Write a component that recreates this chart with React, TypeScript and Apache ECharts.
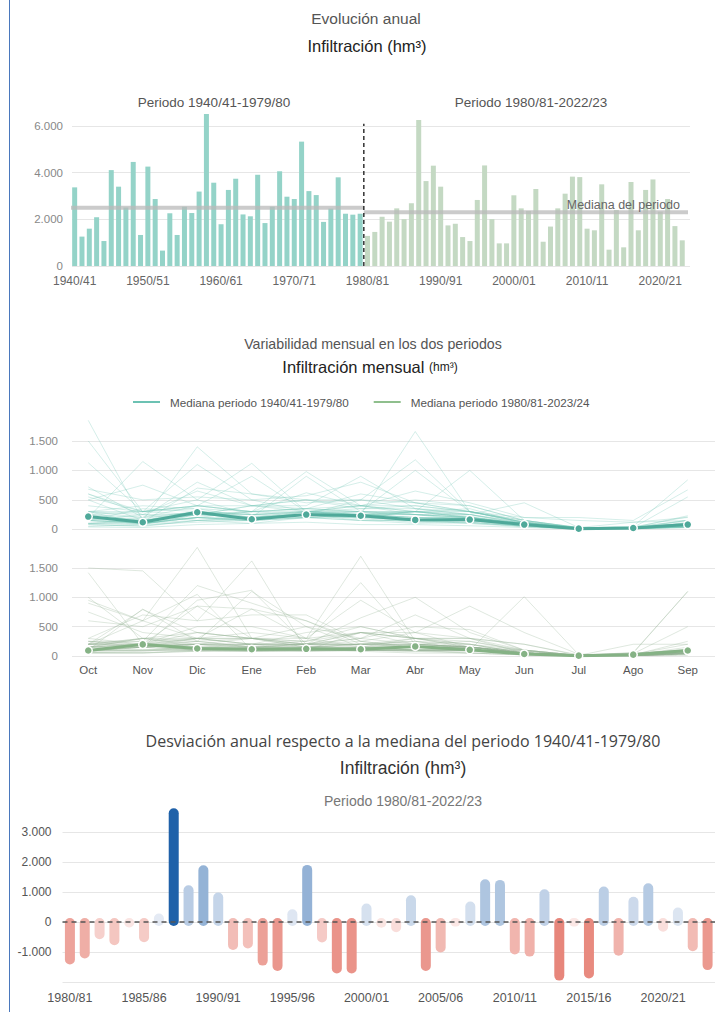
import React, { useEffect, useRef } from 'react';
import * as echarts from 'echarts';

const W = 715;
const H = 1012;

// ---------- Data ----------
const START_YEAR = 1940;
// Annual infiltration (hm³), period 1940/41-1979/80
const annualP1 = [3370, 1260, 1600, 2090, 1070, 4110, 3400, 2510, 4460, 1330, 4260, 2870, 660, 2260, 1330, 2540, 2270, 3190, 6510, 3570, 1790, 3260, 3740, 2210, 2130, 3910, 1840, 2540, 4060, 2970, 2870, 5330, 3210, 3040, 1890, 2460, 3800, 2240, 2200, 2240];
// Annual infiltration (hm³), period 1980/81-2023/24
const annualP2 = [1290, 1460, 2110, 1900, 2470, 2010, 2690, 6260, 3640, 4300, 3400, 1740, 1810, 1240, 1070, 2830, 4310, 2010, 970, 970, 3030, 2470, 2360, 3300, 1040, 1690, 2470, 3100, 3830, 3810, 1600, 1530, 3500, 700, 2400, 800, 3600, 1530, 3260, 3710, 2330, 2870, 1710, 1100];
const medianP1 = 2500;
const medianP2 = 2300;

const months = ['Oct', 'Nov', 'Dic', 'Ene', 'Feb', 'Mar', 'Abr', 'May', 'Jun', 'Jul', 'Ago', 'Sep'];
const medianMonthP1 = [216, 119, 290, 170, 250, 230, 159, 165, 80, 11, 23, 80];
const medianMonthP2 = [93, 198, 128, 116, 122, 116, 163, 105, 35, 6, 23, 93];

const monthlyP1 = [
  [150, 120, 700, 600, 450, 500, 350, 250, 120, 30, 20, 80],
  [80, 60, 150, 200, 250, 180, 120, 100, 60, 10, 10, 40],
  [300, 100, 200, 150, 300, 200, 150, 100, 40, 10, 10, 40],
  [600, 250, 150, 100, 200, 250, 200, 180, 80, 20, 20, 40],
  [50, 80, 120, 150, 200, 150, 100, 120, 50, 10, 10, 30],
  [1130, 300, 400, 300, 250, 500, 450, 400, 150, 30, 120, 150],
  [200, 1150, 500, 250, 300, 250, 300, 200, 100, 20, 30, 100],
  [250, 150, 300, 200, 900, 300, 150, 120, 60, 10, 20, 50],
  [1500, 300, 250, 400, 350, 600, 450, 300, 150, 20, 20, 120],
  [100, 100, 200, 150, 250, 150, 150, 120, 50, 10, 10, 40],
  [400, 300, 1100, 500, 300, 400, 500, 400, 150, 20, 40, 150],
  [720, 200, 300, 250, 250, 200, 300, 350, 100, 30, 20, 150],
  [40, 30, 80, 100, 120, 80, 80, 60, 30, 5, 5, 30],
  [200, 150, 250, 400, 300, 250, 300, 220, 80, 10, 20, 80],
  [80, 50, 150, 200, 200, 200, 150, 150, 80, 10, 10, 50],
  [300, 400, 350, 200, 250, 300, 300, 200, 100, 20, 20, 100],
  [500, 150, 300, 200, 250, 250, 250, 200, 80, 10, 10, 70],
  [150, 250, 650, 400, 500, 350, 350, 300, 120, 20, 20, 80],
  [1850, 150, 1400, 600, 500, 400, 650, 450, 200, 150, 120, 200],
  [500, 750, 400, 300, 300, 350, 400, 300, 120, 20, 30, 100],
  [200, 100, 200, 150, 300, 250, 200, 200, 80, 10, 20, 80],
  [300, 300, 500, 1120, 300, 250, 200, 150, 60, 10, 20, 50],
  [250, 200, 800, 400, 400, 900, 350, 250, 100, 20, 20, 50],
  [150, 350, 300, 250, 200, 250, 300, 250, 80, 10, 20, 50],
  [180, 100, 250, 300, 350, 300, 250, 200, 100, 20, 20, 60],
  [550, 300, 350, 300, 980, 400, 300, 300, 150, 30, 40, 210],
  [100, 80, 250, 200, 300, 300, 250, 200, 80, 10, 20, 50],
  [200, 180, 300, 250, 300, 400, 400, 300, 120, 10, 20, 60],
  [300, 200, 400, 400, 500, 500, 1180, 300, 120, 20, 20, 80],
  [250, 300, 400, 900, 300, 250, 200, 200, 80, 10, 20, 60],
  [200, 150, 250, 200, 250, 300, 1000, 300, 100, 20, 20, 80],
  [680, 500, 550, 500, 570, 800, 450, 300, 200, 200, 150, 670],
  [150, 100, 150, 150, 200, 250, 1660, 300, 120, 20, 20, 70],
  [200, 150, 250, 250, 300, 300, 300, 1000, 150, 30, 30, 80],
  [150, 100, 200, 200, 250, 200, 300, 250, 100, 20, 20, 100],
  [300, 250, 250, 200, 250, 250, 250, 250, 450, 30, 30, 100],
  [600, 300, 400, 300, 620, 400, 300, 200, 80, 20, 30, 550],
  [150, 100, 200, 300, 350, 300, 250, 200, 100, 30, 30, 230],
  [100, 150, 250, 300, 350, 400, 250, 150, 60, 10, 30, 150],
  [100, 150, 200, 150, 200, 150, 150, 150, 60, 20, 50, 840],
];

const monthlyP2 = [
  [60, 80, 150, 150, 150, 200, 200, 150, 80, 10, 10, 50],
  [100, 200, 100, 150, 150, 200, 250, 150, 80, 10, 20, 50],
  [100, 800, 250, 150, 150, 200, 200, 150, 50, 5, 5, 50],
  [80, 150, 200, 150, 200, 400, 300, 250, 100, 10, 10, 50],
  [150, 300, 250, 1100, 500, 150, 100, 100, 50, 5, 15, 50],
  [100, 150, 200, 300, 500, 300, 200, 150, 50, 5, 5, 50],
  [250, 200, 850, 300, 200, 200, 200, 150, 100, 10, 30, 200],
  [1500, 1450, 600, 700, 700, 250, 400, 300, 200, 20, 40, 500],
  [200, 790, 400, 300, 250, 1250, 200, 150, 50, 5, 5, 40],
  [1420, 200, 500, 500, 300, 400, 300, 300, 200, 10, 20, 150],
  [250, 150, 300, 300, 300, 1700, 250, 100, 30, 5, 5, 10],
  [100, 100, 150, 200, 200, 200, 300, 300, 100, 10, 20, 60],
  [150, 200, 250, 300, 150, 150, 200, 250, 80, 10, 20, 50],
  [200, 300, 150, 100, 100, 100, 100, 100, 50, 5, 5, 30],
  [100, 100, 100, 150, 150, 150, 150, 100, 30, 5, 5, 30],
  [100, 150, 950, 1120, 200, 100, 100, 50, 20, 5, 5, 30],
  [950, 600, 1850, 300, 150, 100, 100, 100, 50, 10, 20, 80],
  [200, 300, 400, 300, 200, 200, 150, 150, 50, 5, 5, 50],
  [100, 100, 100, 100, 100, 150, 100, 100, 50, 5, 15, 50],
  [150, 150, 100, 80, 80, 100, 120, 100, 30, 5, 5, 50],
  [900, 600, 1050, 100, 80, 100, 80, 50, 20, 5, 5, 40],
  [150, 200, 300, 200, 200, 300, 500, 450, 100, 10, 10, 50],
  [200, 600, 300, 400, 300, 150, 150, 150, 50, 5, 5, 50],
  [1000, 300, 300, 300, 250, 500, 300, 150, 50, 10, 40, 100],
  [150, 150, 100, 100, 100, 100, 100, 100, 50, 10, 30, 50],
  [200, 200, 200, 200, 200, 250, 150, 150, 50, 10, 30, 50],
  [100, 200, 300, 200, 200, 300, 700, 300, 50, 10, 10, 100],
  [200, 150, 200, 150, 200, 400, 400, 850, 400, 30, 20, 100],
  [600, 500, 850, 800, 600, 200, 150, 100, 50, 10, 20, 250],
  [250, 250, 1200, 900, 600, 250, 150, 100, 30, 5, 15, 60],
  [100, 200, 150, 150, 200, 200, 250, 200, 50, 10, 20, 70],
  [200, 200, 150, 100, 100, 150, 300, 200, 50, 10, 20, 50],
  [200, 250, 300, 800, 300, 950, 400, 150, 50, 10, 20, 70],
  [50, 50, 80, 80, 100, 100, 80, 80, 30, 5, 5, 40],
  [150, 300, 200, 200, 400, 500, 300, 150, 50, 10, 40, 100],
  [60, 60, 80, 100, 100, 100, 100, 100, 30, 5, 15, 50],
  [300, 700, 600, 1620, 100, 80, 50, 50, 20, 5, 5, 70],
  [50, 50, 100, 200, 250, 400, 200, 150, 50, 5, 15, 60],
  [750, 400, 300, 200, 100, 100, 100, 100, 50, 10, 50, 1100],
  [300, 200, 400, 300, 200, 650, 1000, 400, 100, 10, 30, 120],
  [100, 150, 200, 200, 150, 150, 100, 100, 1010, 20, 50, 100],
  [100, 150, 250, 150, 100, 400, 300, 200, 50, 10, 60, 1100],
  [150, 200, 200, 100, 100, 100, 150, 200, 100, 10, 200, 200],
  [80, 100, 100, 80, 100, 150, 150, 150, 50, 5, 35, 100],
];

// Annual deviation from the 1940/41-1979/80 median, 1980/81-2023/24
const deviations = [-1280, -1080, -440, -640, -50, -540, 150, 3660, 1090, 1760, 850, -800, -750, -1320, -1500, 290, 1770, -550, -1580, -1580, 480, -60, -210, 760, -1500, -880, -20, 550, 1290, 1270, -950, -1020, 960, -1820, -20, -1750, 1050, -990, 710, 1160, -190, 350, -840, -1470];

// ---------- Helpers ----------
const season = (y: number) => `${y}/${String((y + 1) % 100).padStart(2, '0')}`;
const seasonsAll = Array.from({ length: annualP1.length + annualP2.length }, (_, i) => season(START_YEAR + i));
const seasonsP2 = seasonsAll.slice(annualP1.length);

const fmt = (v: number) => {
  const s = Math.abs(Math.round(v)).toString().replace(/\B(?=(\d{3})+(?!\d))/g, '.');
  return (v < 0 ? '-' : '') + s;
};

const lerp = (a: number[], b: number[], t: number) =>
  `rgb(${a.map((x, i) => Math.round(x + (b[i] - x) * t)).join(',')})`;
const devColor = (v: number) => {
  if (v >= 0) {
    const t = Math.pow(Math.min(v / 3700, 1), 1.2);
    return lerp([232, 237, 246], [28, 95, 168], t);
  }
  const t = Math.min(-v / 1900, 1);
  return lerp([251, 232, 230], [230, 130, 118], t);
};

const TEAL = '#94d3c8';
const GREEN = '#c4d9c3';
const GRID = '#e6e6e6';
const NONE = 'rgba(0,0,0,0)';
const FONT = '"Liberation Sans", Arial, sans-serif';

function buildOption(): any {
  const n1 = annualP1.length;
  const n = n1 + annualP2.length;

  const gText = (x: number, y: number, text: string, size: number, fill: string, family = FONT, extra: any = {}) => ({
    type: 'text',
    x,
    y,
    z: 100,
    silent: true,
    style: {
      text,
      fill,
      fontSize: size,
      fontFamily: family,
      align: 'center',
      textAlign: 'center',
      verticalAlign: 'middle',
      textVerticalAlign: 'middle',
      ...extra,
    },
  });

  const valueLabelAxis = (gridIndex: number, min: number, max: number, interval: number, nLines: number, margin: number, color: string, extra: any = {}) => ({
    type: 'value',
    gridIndex,
    min,
    max,
    interval,
    axisLine: { show: false },
    axisTick: { show: false },
    axisLabel: { color, fontSize: 11.5, margin, formatter: fmt, showMaxLabel: false, ...extra },
    splitLine: { lineStyle: { color: [...Array(nLines).fill(GRID), NONE], width: 1 } },
  });
  const hiddenValue = (gridIndex: number, min: number, max: number) => ({ type: 'value', gridIndex, min, max, show: false });

  const spaghettiP1 = monthlyP1.map((row, i) => ({
    type: 'line',
    name: 'p1_' + i,
    xAxisIndex: 4,
    yAxisIndex: 3,
    data: row,
    symbol: 'none',
    silent: true,
    lineStyle: { width: 1, color: 'rgba(115,198,182,0.3)' },
    z: 2,
  }));
  const spaghettiP2 = monthlyP2.map((row, i) => ({
    type: 'line',
    name: 'p2_' + i,
    xAxisIndex: 6,
    yAxisIndex: 5,
    data: row,
    symbol: 'none',
    silent: true,
    lineStyle: { width: 1, color: 'rgba(150,178,150,0.3)' },
    z: 2,
  }));

  const nameMed1 = 'Mediana periodo 1940/41-1979/80';
  const nameMed2 = 'Mediana periodo 1980/81-2023/24';

  return {
    animation: false,
    backgroundColor: '#fff',
    textStyle: { fontFamily: FONT },
    grid: [
      { left: 72, right: 25, top: 112, height: 154 }, // 0 top gridlines/labels
      { left: 71, width: 614.9, top: 112, height: 154 }, // 1 top data
      { left: 72, right: 0, top: 417.4, height: 111.9 }, // 2 mid upper gridlines
      { left: 61, width: 667, top: 417.4, height: 111.9 }, // 3 mid upper data
      { left: 72, right: 0, top: 544.5, height: 111.5 }, // 4 mid lower gridlines
      { left: 61, width: 667, top: 544.5, height: 111.5 }, // 5 mid lower data
      { left: 62.5, width: 660, top: 808, height: 174 }, // 6 bottom
    ],
    legend: {
      left: 133,
      top: 396,
      padding: 0,
      icon: 'rect',
      itemWidth: 27,
      itemHeight: 2,
      itemGap: 25,
      textStyle: { color: '#555', fontSize: 11.7, padding: [0, 0, 0, 5] },
      data: [
        { name: nameMed1, itemStyle: { color: '#6cc2b3', borderWidth: 0, borderColor: NONE } },
        { name: nameMed2, itemStyle: { color: '#8fbf8d', borderWidth: 0, borderColor: NONE } },
      ],
    },
    xAxis: [
      hiddenValue(0, 0, 1), // 0
      {
        type: 'category', gridIndex: 1, data: seasonsAll,
        axisLine: { show: false }, axisTick: { show: false },
        axisLabel: { interval: 9, color: '#666', fontSize: 12, margin: 9 },
      }, // 1
      hiddenValue(1, -0.5, n - 0.5), // 2
      hiddenValue(2, 0, 1), // 3
      { type: 'category', gridIndex: 3, data: months, show: false }, // 4
      hiddenValue(4, 0, 1), // 5
      {
        type: 'category', gridIndex: 5, data: months,
        axisLine: { show: false }, axisTick: { show: false },
        axisLabel: { color: '#555', fontSize: 11.5, margin: 8 },
      }, // 6
      {
        type: 'category', gridIndex: 6, data: seasonsP2,
        axisLine: { show: false }, axisTick: { show: false },
        axisLabel: { interval: 4, color: '#555', fontSize: 12.5, margin: 9 },
      }, // 7
    ],
    yAxis: [
      valueLabelAxis(0, 0, 6600, 2000, 4, 9, '#888'), // 0
      hiddenValue(1, 0, 6600), // 1
      valueLabelAxis(2, 0, 1900, 500, 4, 14, '#888'), // 2
      hiddenValue(3, 0, 1900), // 3
      valueLabelAxis(4, 0, 1900, 500, 4, 14, '#888'), // 4
      hiddenValue(5, 0, 1900), // 5
      valueLabelAxis(6, -2000, 3800, 1000, 6, 11, '#555', { showMinLabel: false, fontSize: 12 }), // 6
    ],
    series: [
      // ---- Top: annual bars ----
      {
        type: 'bar',
        xAxisIndex: 1,
        yAxisIndex: 1,
        barWidth: 5,
        silent: true,
        data: [
          ...annualP1.map((v) => ({ value: v, itemStyle: { color: TEAL } })),
          ...annualP2.map((v) => ({ value: v, itemStyle: { color: GREEN } })),
        ],
        z: 2,
      },
      {
        type: 'line',
        xAxisIndex: 2,
        yAxisIndex: 1,
        data: [[-0.5, medianP1], [n1 - 0.5, medianP1]],
        symbol: 'none',
        silent: true,
        clip: false,
        lineStyle: { width: 4, color: 'rgba(185,185,185,0.75)' },
        z: 3,
      },
      {
        type: 'line',
        xAxisIndex: 2,
        yAxisIndex: 1,
        data: [[n1 - 0.5, medianP2], [n + 0.1, medianP2]],
        symbol: 'none',
        silent: true,
        clip: false,
        lineStyle: { width: 4, color: 'rgba(185,185,185,0.75)' },
        z: 3,
      },
      {
        type: 'line',
        xAxisIndex: 2,
        yAxisIndex: 1,
        data: [[n1 - 0.5, 0], [n1 - 0.5, 6100]],
        symbol: 'none',
        silent: true,
        clip: false,
        lineStyle: { width: 1.5, color: '#333', type: [4, 3] },
        z: 4,
      },
      // ---- Middle: monthly spaghetti ----
      ...spaghettiP1,
      ...spaghettiP2,
      {
        type: 'line',
        name: nameMed1,
        xAxisIndex: 4,
        yAxisIndex: 3,
        data: medianMonthP1,
        symbol: 'circle',
        symbolSize: 8,
        silent: true,
        itemStyle: { color: '#4fa99a', borderColor: '#fff', borderWidth: 1.5 },
        lineStyle: { width: 3, color: '#4fa99a' },
        z: 5,
      },
      {
        type: 'line',
        name: nameMed2,
        xAxisIndex: 6,
        yAxisIndex: 5,
        data: medianMonthP2,
        symbol: 'circle',
        symbolSize: 8,
        silent: true,
        itemStyle: { color: '#85b285', borderColor: '#fff', borderWidth: 1.5 },
        lineStyle: { width: 3, color: '#85b285' },
        z: 5,
      },
      // ---- Bottom: deviation bars ----
      {
        type: 'custom',
        xAxisIndex: 7,
        yAxisIndex: 6,
        silent: true,
        data: deviations.map((v, i) => [i, v]),
        encode: { x: 0, y: 1 },
        renderItem: (params: any, api: any) => {
          const idx = api.value(0);
          const v = api.value(1);
          const p0 = api.coord([idx, 0]);
          const p1 = api.coord([idx, v]);
          const bw = 10;
          const ext = 4;
          const top = Math.min(p0[1], p1[1]) - ext;
          const bot = Math.max(p0[1], p1[1]) + ext;
          return {
            type: 'rect',
            shape: { x: p0[0] - bw / 2, y: top, width: bw, height: bot - top, r: bw / 2 },
            style: { fill: devColor(v) },
          };
        },
        z: 2,
      },
      {
        type: 'line',
        xAxisIndex: 7,
        yAxisIndex: 6,
        data: deviations,
        symbol: 'none',
        silent: true,
        lineStyle: { opacity: 0 },
        markLine: {
          symbol: ['none', 'none'],
          silent: true,
          label: { show: false },
          lineStyle: { type: [5, 4], color: '#555', width: 1.5 },
          data: [{ yAxis: 0 }],
        },
        z: 10,
      },
    ],
    graphic: [
      gText(366, 18, 'Evolución anual', 15.5, '#555'),
      gText(367, 46, 'Infiltración (hm³)', 16.5, '#222'),
      gText(214, 102, 'Periodo 1940/41-1979/80', 13.5, '#555'),
      gText(680, 205, 'Mediana del periodo', 12.5, '#666', FONT, { align: 'right', textAlign: 'right' }),
      gText(531, 102, 'Periodo 1980/81-2022/23', 13.5, '#555'),
      gText(373, 344, 'Variabilidad mensual en los dos periodos', 14.2, '#555'),
      gText(370, 367, '{a|Infiltración mensual} {b|(hm³)}', 16.5, '#222', FONT, {
        rich: {
          a: { fontSize: 16.5, fill: '#222', fontFamily: FONT },
          b: { fontSize: 12, fill: '#222', fontFamily: FONT },
        },
      }),
      gText(403, 741, 'Desviación anual respecto a la mediana del periodo 1940/41-1979/80', 16, '#444', '"Open Sans", sans-serif'),
      gText(403, 768, 'Infiltración (hm³)', 17.5, '#333'),
      gText(403, 801, 'Periodo 1980/81-2022/23', 14, '#777'),
    ],
  };
}

export default function App() {
  const ref = useRef<HTMLDivElement>(null);
  useEffect(() => {
    if (!ref.current) return;
    const chart = echarts.init(ref.current, null, { renderer: 'svg', width: W, height: H });
    chart.setOption(buildOption());
    return () => chart.dispose();
  }, []);
  return (
    <div style={{ position: 'absolute', left: 0, top: 0, width: W, height: H, background: '#fff', overflow: 'hidden' }}>
      <div ref={ref} style={{ width: W, height: H }} />
      <div style={{ position: 'absolute', left: 9, top: 0, width: 1, height: H, background: '#4a78bd' }} />
    </div>
  );
}
